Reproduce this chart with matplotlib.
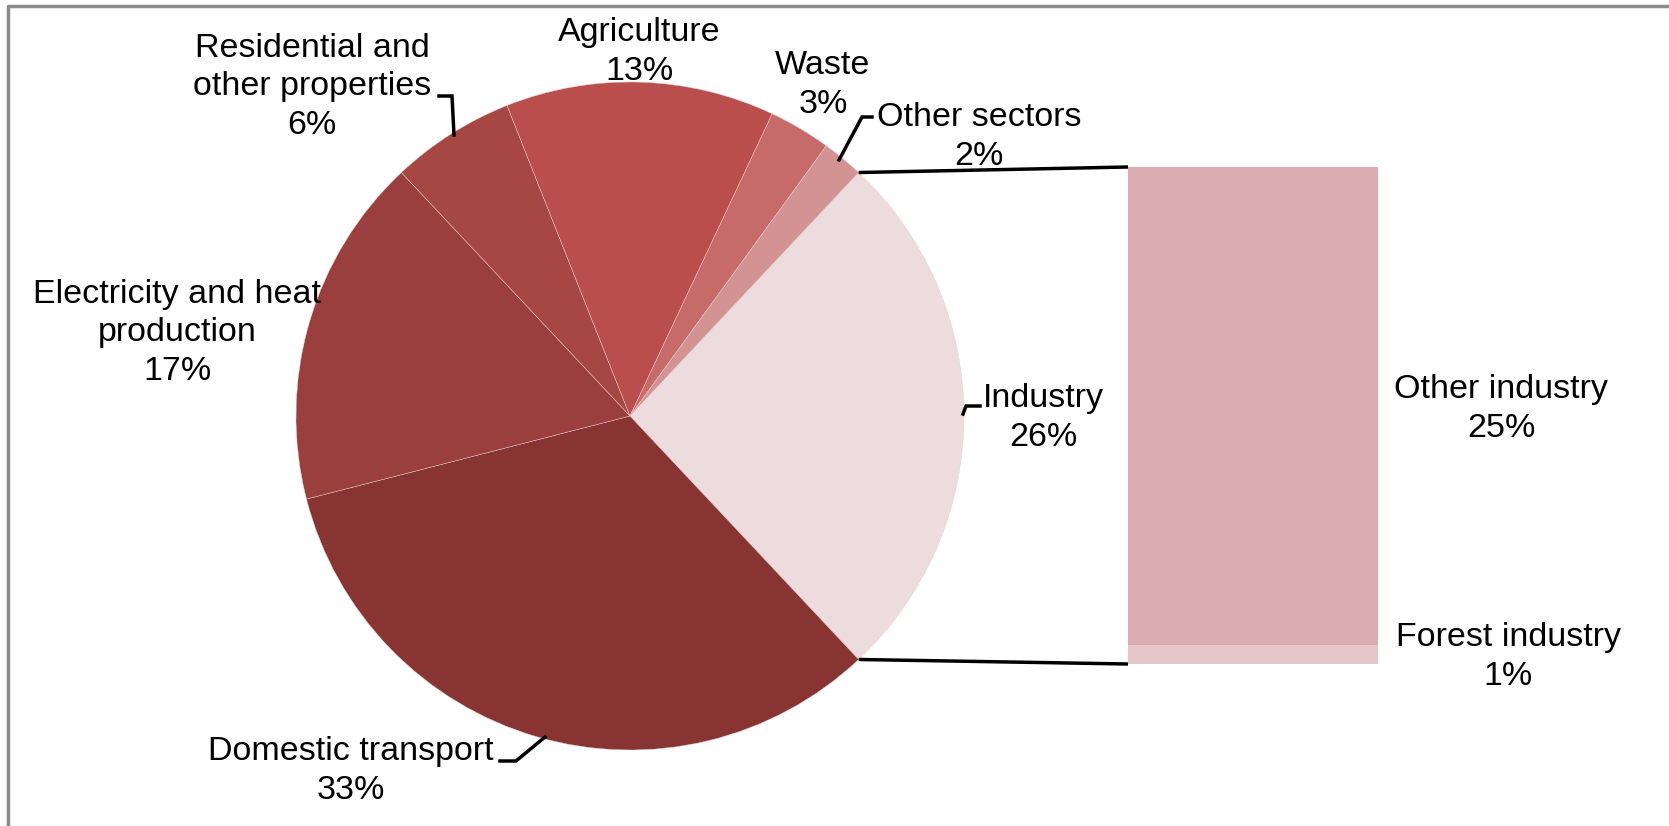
import numpy as np
import matplotlib
matplotlib.use("Agg")
import matplotlib.pyplot as plt

plt.rcParams['font.family'] = ['Liberation Sans', 'DejaVu Sans']

# Emission shares by sector (%), clockwise from Industry
sectors = ['Industry', 'Domestic transport', 'Electricity and heat\nproduction',
           'Residential and\nother properties', 'Agriculture', 'Waste', 'Other sectors']
shares = [26, 33, 17, 6, 13, 3, 2]
sector_colors = ['#EDDCDD', '#873433', '#9A3F3D', '#A64744', '#B94E4C', '#C66B6A', '#D29392']

# Breakdown of Industry
industry_parts = ['Forest industry', 'Other industry']
industry_shares = [1, 25]
industry_colors = ['#E6C6C8', '#DBADB0']

W, H = 1669, 826
fig = plt.figure(figsize=(W / 100, H / 100), dpi=100)
ax = fig.add_axes([0, 0, 1, 1])

cx, cy, r = 630, 416, 334
start = 360 * shares[0] / 100 / 2
wedges, _ = ax.pie(shares, colors=sector_colors, startangle=start, counterclock=False,
                   center=(cx, cy), radius=r, frame=True,
                   wedgeprops=dict(linewidth=0.3, edgecolor='#e8d0d0'))
# pie draws with y up; y axis is inverted, so flip wedges about the centre
for w in wedges:
    w.set_transform(matplotlib.transforms.Affine2D().translate(-cx, -cy).scale(1, -1)
                    .translate(cx, cy) + ax.transData)
ax.set_xlim(0, W)
ax.set_ylim(H, 0)
ax.set_aspect('equal')
ax.axis('off')

# stacked bar for the industry split
bx, bw, btop, bbot = 1253, 250, 167, 664
scale = (bbot - btop) / sum(industry_shares)
bottom = bbot
for part, val, col in zip(industry_parts, industry_shares, industry_colors):
    ax.bar(bx, -val * scale, width=bw, bottom=bottom, color=col, linewidth=0)
    bottom -= val * scale

# connector lines from the Industry wedge to the bar
a = np.radians(start)
ax.plot([cx + r * np.cos(a), bx - bw / 2], [cy - r * np.sin(a), btop], color='black', lw=2.5,
        solid_capstyle='butt')
ax.plot([cx + r * np.cos(a), bx - bw / 2], [cy + r * np.sin(a), bbot], color='black', lw=2.5,
        solid_capstyle='butt')

fs = 24.5
ls = 1.3
labels = [
    (1043, 418, 0), (351, 771, 1), (177, 333, 2), (312, 87, 3),
    (639, 52, 4), (823, 85, 5), (979, 137, 6),
]
for x, y, i in labels:
    ax.text(x, y, f'{sectors[i]}\n{shares[i]}%', ha='center', va='center',
            fontsize=fs, linespacing=ls)

ax.text(1501, 409, f'{industry_parts[1]}\n{industry_shares[1]}%', ha='center', va='center',
        fontsize=fs, linespacing=ls)
ax.text(1508, 657, f'{industry_parts[0]}\n{industry_shares[0]}%', ha='center', va='center',
        fontsize=fs, linespacing=ls)

# leader lines
leaders = [
    ([439, 452, 454], [96, 96, 135]),
    ([872, 862, 839], [117, 117, 160]),
    ([980, 966, 963], [406, 406, 414]),
    ([500, 516, 545], [761, 761, 737]),
]
for xs, ys in leaders:
    ax.plot(xs, ys, color='black', lw=2.5, solid_joinstyle='miter')

# chart frame
ax.plot([8, 8, W], [H, 6, 6], color='#8a8a8a', lw=2.5)

fig.savefig('out.png', dpi=100)
